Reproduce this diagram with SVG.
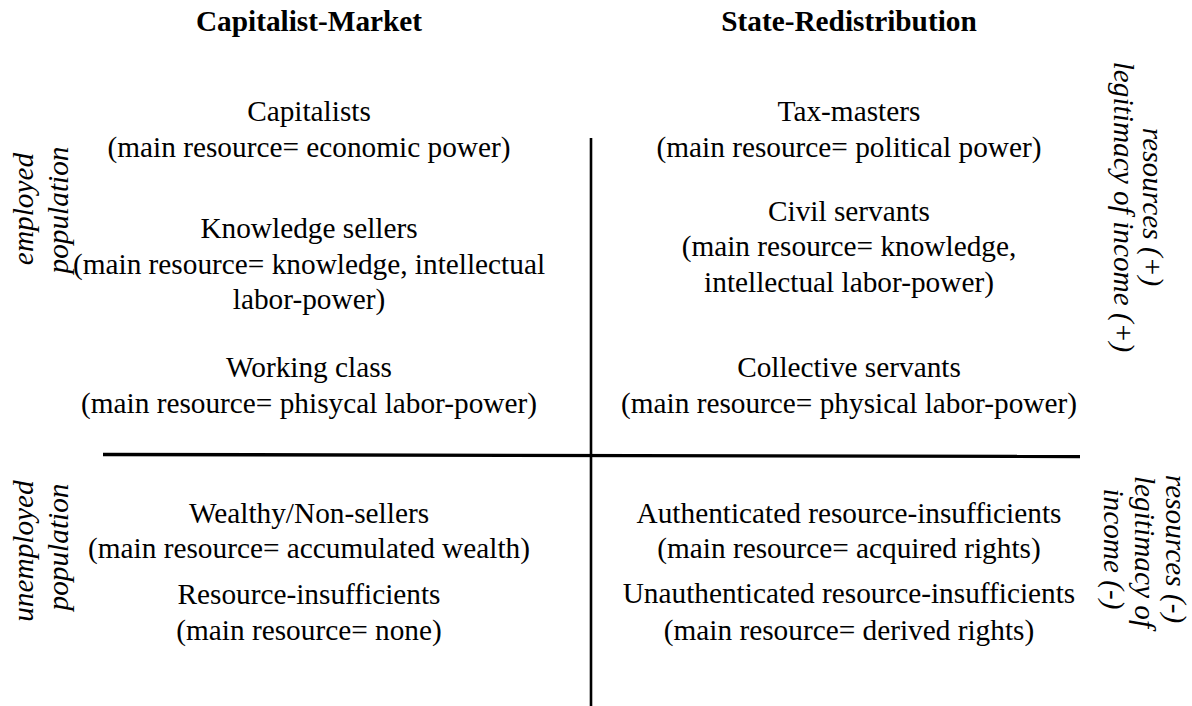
<svg xmlns="http://www.w3.org/2000/svg" width="1192" height="706" viewBox="0 0 1192 706">
  <style>
    text { font-family: "Liberation Serif", "Times New Roman", serif; font-size: 29.3px; fill: #000; }
    .title { font-weight: bold; }
    .c { text-anchor: middle; }
    .side { font-style: italic; text-anchor: middle; }
    .axis { stroke: #000; fill: none; }
  </style>
  <rect width="1192" height="706" fill="#fff"/>

  <!-- quadrant dividers -->
  <g id="axes">
    <path class="axis" d="M591 138 V706" stroke-width="2.6"/>
    <path class="axis" d="M103 454.5 L1080 456.5" stroke-width="3.4"/>
  </g>

  <!-- column headings -->
  <g id="heading-market">
    <text class="title c" x="309" y="31">Capitalist-Market</text>
  </g>
  <g id="heading-state">
    <text class="title c" x="849" y="31">State-Redistribution</text>
  </g>

  <!-- row labels, left side -->
  <g id="label-employed">
    <text class="side" transform="translate(33,209) rotate(-90)">employed</text>
    <text class="side" transform="translate(68,210) rotate(-90)">population</text>
  </g>
  <g id="label-unemployed">
    <text class="side" transform="translate(33,551) rotate(-90)">unemployed</text>
    <text class="side" transform="translate(68,547) rotate(-90)">population</text>
  </g>

  <!-- row labels, right side -->
  <g id="label-plus">
    <text class="side" transform="translate(1143,207) rotate(90)">resources (+)</text>
    <text class="side" transform="translate(1114,207) rotate(90)">legitimacy of income (+)</text>
  </g>
  <g id="label-minus">
    <text class="side" transform="translate(1166,549) rotate(90)">resources (-)</text>
    <text class="side" transform="translate(1135,552) rotate(90)">legitimacy of</text>
    <text class="side" transform="translate(1104,549) rotate(90)">income (-)</text>
  </g>

  <!-- Capitalist-Market column -->
  <g id="capitalists">
    <text class="c" x="309" y="121">Capitalists</text>
    <text class="c" x="309" y="157">(main resource= economic power)</text>
  </g>
  <g id="knowledge-sellers">
    <text class="c" x="309" y="238">Knowledge sellers</text>
    <text class="c" x="309" y="273.5">(main resource= knowledge, intellectual</text>
    <text class="c" x="309" y="309">labor-power)</text>
  </g>
  <g id="working-class">
    <text class="c" x="309" y="376.5">Working class</text>
    <text class="c" x="309" y="412.5">(main resource= phisycal labor-power)</text>
  </g>
  <g id="wealthy-non-sellers">
    <text class="c" x="309" y="522.5">Wealthy/Non-sellers</text>
    <text class="c" x="309" y="558">(main resource= accumulated wealth)</text>
  </g>
  <g id="resource-insufficients">
    <text class="c" x="309" y="604">Resource-insufficients</text>
    <text class="c" x="309" y="639.5">(main resource= none)</text>
  </g>

  <!-- State-Redistribution column -->
  <g id="tax-masters">
    <text class="c" x="849" y="121">Tax-masters</text>
    <text class="c" x="849" y="157">(main resource= political power)</text>
  </g>
  <g id="civil-servants">
    <text class="c" x="849" y="220.5">Civil servants</text>
    <text class="c" x="849" y="256">(main resource= knowledge,</text>
    <text class="c" x="849" y="291.5">intellectual labor-power)</text>
  </g>
  <g id="collective-servants">
    <text class="c" x="849" y="376.5">Collective servants</text>
    <text class="c" x="849" y="412.5">(main resource= physical labor-power)</text>
  </g>
  <g id="authenticated">
    <text class="c" x="849" y="522.5">Authenticated resource-insufficients</text>
    <text class="c" x="849" y="558">(main resource= acquired rights)</text>
  </g>
  <g id="unauthenticated">
    <text class="c" x="849" y="603">Unauthenticated resource-insufficients</text>
    <text class="c" x="849" y="639.5">(main resource= derived rights)</text>
  </g>
</svg>
